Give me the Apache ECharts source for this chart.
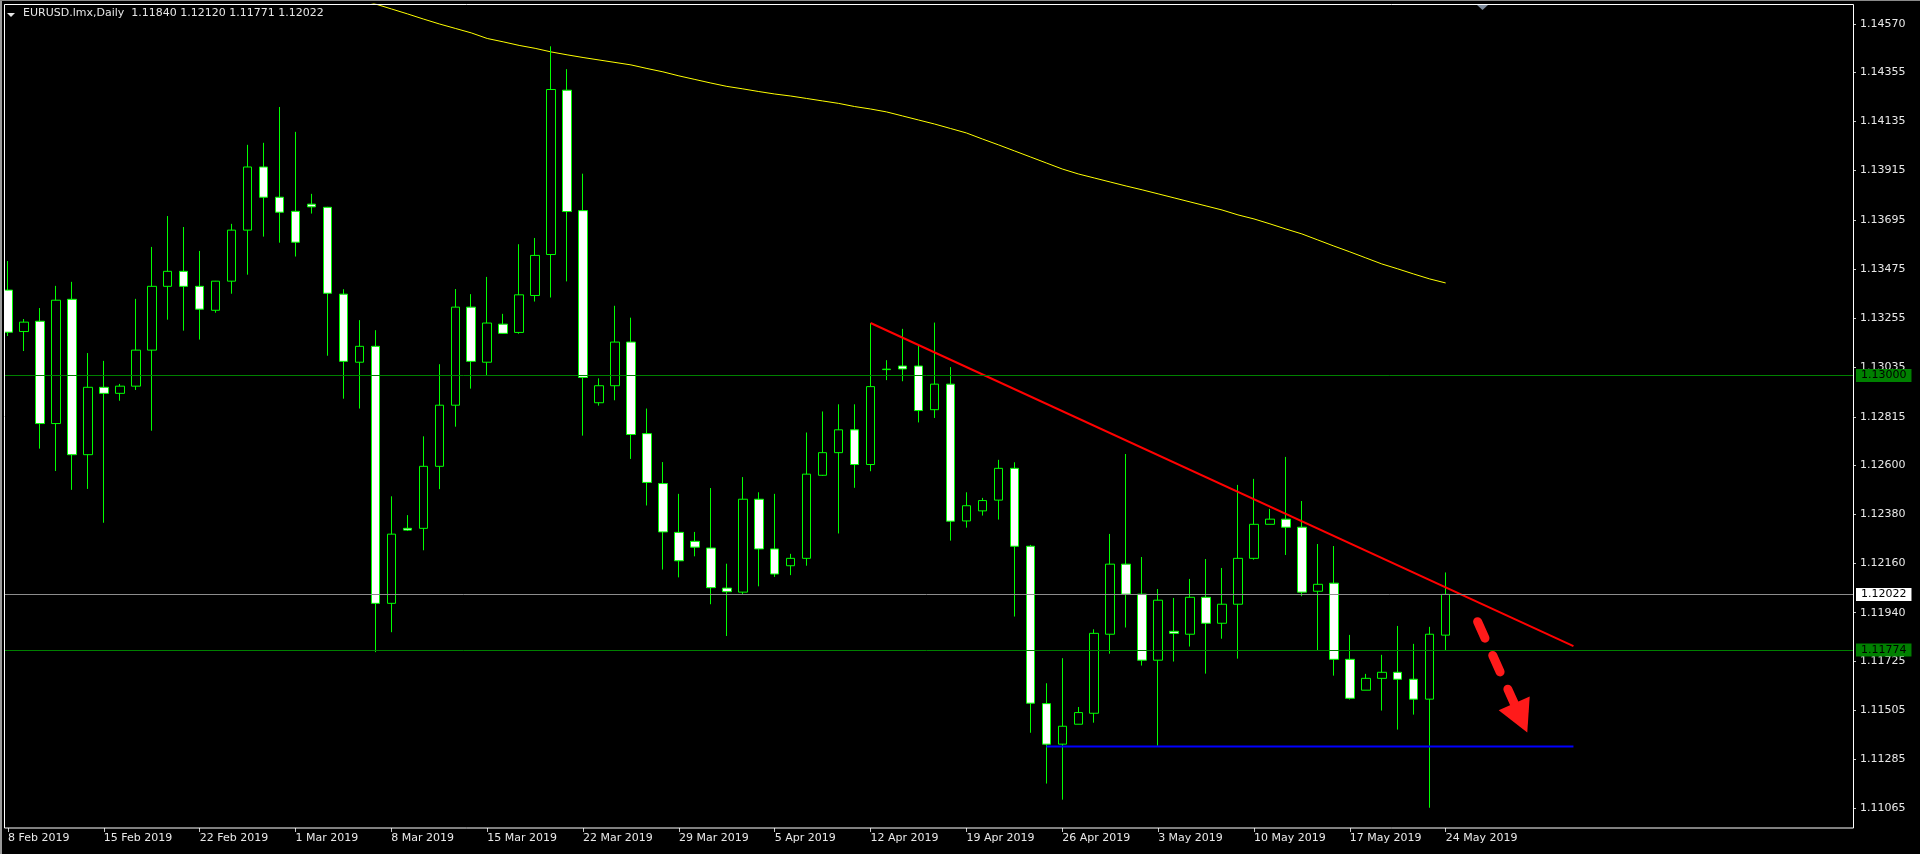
<!DOCTYPE html>
<html>
<head>
<meta charset="utf-8">
<script src="https://cdn.jsdelivr.net/npm/echarts@6/dist/echarts.min.js"></script>
<style>
html,body{margin:0;padding:0;background:#000;}
#c{width:1920px;height:854px;}
</style>
</head>
<body>
<div id="c"></div>
<script>
// ---------------- DATA ----------------
const symbolName = 'EURUSD.lmx';
const timeframe = 'Daily';

const categories = [
 '8 Feb 2019',
 '10 Feb 2019','11 Feb 2019','12 Feb 2019','13 Feb 2019','14 Feb 2019','15 Feb 2019',
 '17 Feb 2019','18 Feb 2019','19 Feb 2019','20 Feb 2019','21 Feb 2019','22 Feb 2019',
 '24 Feb 2019','25 Feb 2019','26 Feb 2019','27 Feb 2019','28 Feb 2019','1 Mar 2019',
 '3 Mar 2019','4 Mar 2019','5 Mar 2019','6 Mar 2019','7 Mar 2019','8 Mar 2019',
 '10 Mar 2019','11 Mar 2019','12 Mar 2019','13 Mar 2019','14 Mar 2019','15 Mar 2019',
 '17 Mar 2019','18 Mar 2019','19 Mar 2019','20 Mar 2019','21 Mar 2019','22 Mar 2019',
 '24 Mar 2019','25 Mar 2019','26 Mar 2019','27 Mar 2019','28 Mar 2019','29 Mar 2019',
 '31 Mar 2019','1 Apr 2019','2 Apr 2019','3 Apr 2019','4 Apr 2019','5 Apr 2019',
 '7 Apr 2019','8 Apr 2019','9 Apr 2019','10 Apr 2019','11 Apr 2019','12 Apr 2019',
 '14 Apr 2019','15 Apr 2019','16 Apr 2019','17 Apr 2019','18 Apr 2019','19 Apr 2019',
 '21 Apr 2019','22 Apr 2019','23 Apr 2019','24 Apr 2019','25 Apr 2019','26 Apr 2019',
 '28 Apr 2019','29 Apr 2019','30 Apr 2019','1 May 2019','2 May 2019','3 May 2019',
 '5 May 2019','6 May 2019','7 May 2019','8 May 2019','9 May 2019','10 May 2019',
 '12 May 2019','13 May 2019','14 May 2019','15 May 2019','16 May 2019','17 May 2019',
 '19 May 2019','20 May 2019','21 May 2019','22 May 2019','23 May 2019','24 May 2019'
];
const futureSlots = 25; // empty chart-shift area on the right

const openP = [
 1.13381,1.13196,1.13242,1.12785,1.13340,1.12646,1.12947,1.12920,1.12952,1.13113,
 1.13398,1.13465,1.13398,1.13291,1.13421,1.13649,1.13931,1.13796,1.13733,1.13765,
 1.13751,1.13363,1.13059,1.13130,1.11982,1.12317,1.12317,1.12594,1.12867,1.13305,
 1.13059,1.13229,1.13192,1.13357,1.13540,1.14274,1.13736,1.12878,1.12954,1.13149,
 1.12740,1.12517,1.12299,1.12259,1.12229,1.12050,1.12032,1.12447,1.12225,1.12150,
 1.12183,1.12554,1.12655,1.12757,1.12602,1.13026,1.13042,1.13042,1.12847,1.12961,
 1.12350,1.12395,1.12443,1.12585,1.12237,1.11534,1.11353,1.11442,1.11491,1.11844,
 1.12157,1.12023,1.11728,1.11857,1.11844,1.12009,1.11893,1.11978,1.12183,1.12335,
 1.12358,1.12322,1.12036,1.12072,1.11732,1.11594,1.11647,1.11674,1.11643,1.11554,
 1.11840
];
const highP = [
 1.13511,1.13252,1.13301,1.13400,1.13418,1.13100,1.13065,1.12962,1.13342,1.13574,
 1.13712,1.13663,1.13556,1.13422,1.13677,1.14030,1.14039,1.14199,1.14088,1.13811,
 1.13753,1.13385,1.13247,1.13202,1.12460,1.12376,1.12728,1.13050,1.13386,1.13363,
 1.13440,1.13275,1.13586,1.13614,1.14470,1.14368,1.13901,1.12987,1.13311,1.13258,
 1.12852,1.12613,1.12471,1.12301,1.12497,1.12159,1.12546,1.12478,1.12471,1.12203,
 1.12745,1.12839,1.12871,1.12871,1.13234,1.13068,1.13208,1.13133,1.13236,1.13037,
 1.12478,1.12453,1.12623,1.12612,1.12243,1.11625,1.11737,1.11519,1.11866,1.12292,
 1.12649,1.12189,1.12046,1.12006,1.12091,1.12180,1.12140,1.12511,1.12538,1.12404,
 1.12636,1.12439,1.12247,1.12238,1.11841,1.11667,1.11752,1.11881,1.11801,1.11877,
 1.12120
];
const lowP = [
 1.13176,1.13109,1.12673,1.12573,1.12489,1.12493,1.12342,1.12887,1.12935,1.12753,
 1.13249,1.13200,1.13160,1.13280,1.13365,1.13450,1.13620,1.13593,1.13531,1.13723,
 1.13088,1.12896,1.12852,1.11764,1.11853,1.12305,1.12219,1.12492,1.12771,1.12941,
 1.13000,1.13185,1.13186,1.13330,1.13348,1.13420,1.12731,1.12865,1.12889,1.12627,
 1.12419,1.12133,1.12098,1.12192,1.11978,1.11836,1.12023,1.12058,1.12100,1.12108,
 1.12150,1.12551,1.12294,1.12498,1.12572,1.12979,1.12974,1.12790,1.12810,1.12262,
 1.12320,1.12374,1.12356,1.11923,1.11404,1.11177,1.11105,1.11442,1.11449,1.11757,
 1.11874,1.11704,1.11346,1.11722,1.11789,1.11668,1.11824,1.11735,1.12177,1.12335,
 1.12198,1.12014,1.11773,1.11659,1.11552,1.11594,1.11503,1.11418,1.11485,1.11069,
 1.11771
];
const closeP = [
 1.13193,1.13238,1.12785,1.13336,1.12646,1.12947,1.12920,1.12952,1.13113,1.13398,
 1.13465,1.13398,1.13296,1.13421,1.13649,1.13931,1.13796,1.13729,1.13595,1.13753,
 1.13367,1.13063,1.13130,1.11982,1.12291,1.12309,1.12594,1.12867,1.13305,1.13063,
 1.13234,1.13188,1.13360,1.13536,1.14277,1.13732,1.12991,1.12954,1.13149,1.12736,
 1.12522,1.12301,1.12172,1.12233,1.12052,1.12034,1.12447,1.12225,1.12113,1.12183,
 1.12559,1.12655,1.12757,1.12602,1.12950,1.13028,1.13029,1.12843,1.12961,1.12349,
 1.12418,1.12441,1.12585,1.12237,1.11536,1.11353,1.11433,1.11494,1.11848,1.12157,
 1.12023,1.11728,1.11996,1.11848,1.12009,1.11893,1.11978,1.12183,1.12335,1.12358,
 1.12322,1.12032,1.12067,1.11732,1.11558,1.11647,1.11674,1.11643,1.11554,1.11844,
 1.12022
];
// moving average (yellow); earlier values lie above the visible range
const maValues = [
 null,null,null,null,null,null,null,null,null,null,
 null,null,null,null,null,null,null,null,null,null,
 null,null,1.14682,1.14659,1.14637,1.14615,1.14592,1.14570,1.14550,1.14530,
 1.14505,1.14490,1.14474,1.14461,1.14445,1.14432,1.14420,1.14409,1.14398,1.14387,
 1.14371,1.14356,1.14338,1.14322,1.14306,1.14291,1.14280,1.14268,1.14257,1.14248,
 1.14237,1.14226,1.14215,1.14201,1.14190,1.14177,1.14159,1.14141,1.14123,1.14103,
 1.14083,1.14056,1.14030,1.14003,1.13976,1.13949,1.13922,1.13900,1.13882,1.13864,
 1.13846,1.13829,1.13811,1.13793,1.13775,1.13757,1.13739,1.13717,1.13699,1.13677,
 1.13654,1.13632,1.13605,1.13578,1.13552,1.13525,1.13498,1.13476,1.13453,1.13431,
 1.13413
];
// price-axis tick labels, bottom to top
const yTickLabels = ['1.11065','1.11285','1.11505','1.11725','1.11940','1.12160','1.12380','1.12600',
 '1.12815','1.13035','1.13255','1.13475','1.13695','1.13915','1.14135','1.14355','1.14570'];
const levelLines = [1.13000, 1.11774];
const trendX = [54, 98];       const trendY = [1.13234, 1.11791];
const supportX = [65, 98];     const supportY = [1.11342, 1.11342];
const arrowX = [92.0, 94.70];  const arrowY = [1.11900, 1.11470];

// ---------------- CHART ----------------
const Y_MIN = 1.109785, Y_MAX = 1.146590;
const FONT = 'DejaVu Sans';
const last = closeP.length - 1;
const yTickValues = yTickLabels.map(Number);

const xCats = categories.concat(new Array(futureSlots).fill(''));
const candleData = openP.map((o, i) => [o, closeP[i], lowP[i], highP[i]]);
const titleText = symbolName + ',' + timeframe + '  ' +
  [openP[last], highP[last], lowP[last], closeP[last]].map(v => v.toFixed(5)).join(' ');

const chart = echarts.init(document.getElementById('c'), null, {renderer: 'canvas'});

const levelLabel = (bg) => ({
  show: true, position: 'end', distance: 3, color: '#000', backgroundColor: bg,
  fontSize: 11, fontFamily: FONT, padding: [1, 5, 0, 5], lineHeight: 12,
  formatter: p => Number(p.value).toFixed(5)
});

chart.setOption({
  backgroundColor: '#000000',
  animation: false,
  title: {
    text: titleText, left: 23, top: 8, padding: 0,
    textStyle: {color: '#e6e6e6', fontSize: 11, fontWeight: 'normal', fontFamily: FONT}
  },
  grid: {left: -3, top: 4, width: 1856, height: 824, containLabel: false},
  xAxis: [{
    type: 'category', data: xCats, boundaryGap: true,
    axisLine: {show: false, onZero: false},
    axisTick: {show: true, alignWithLabel: true, length: 4,
      interval: (i, v) => i % 6 === 0 && v !== '',
      lineStyle: {color: '#c8c8c8'}},
    axisLabel: {show: true, interval: (i, v) => i % 6 === 0 && v !== '',
      align: 'left', margin: 5, color: '#e8e8e8', fontSize: 11, fontFamily: FONT},
    splitLine: {show: false}
  }, {
    type: 'value', min: -0.5, max: xCats.length - 0.5, show: false,
    axisLine: {onZero: false}
  }],
  yAxis: [{
    type: 'value', position: 'right', min: Y_MIN, max: Y_MAX,
    axisLine: {show: false, onZero: false},
    axisTick: {show: true, length: 3, customValues: yTickValues, lineStyle: {color: '#c8c8c8'}},
    axisLabel: {
      show: true, margin: 7, color: '#e8e8e8', fontSize: 11, fontFamily: FONT,
      customValues: yTickValues,
      formatter: v => Number(v).toFixed(5)
    },
    splitLine: {show: false}
  }],
  series: [
    {
      name: 'MA', type: 'line', xAxisIndex: 0, yAxisIndex: 0, data: maValues,
      symbol: 'none', lineStyle: {color: '#ffff00', width: 1}, z: 1, silent: true
    },
    {
      name: symbolName, type: 'candlestick', xAxisIndex: 0, yAxisIndex: 0,
      data: candleData, barWidth: 9, z: 3,
      itemStyle: {color: '#000000', color0: '#ffffff', borderColor: '#00ff00',
        borderColor0: '#00ff00', borderWidth: 1},
      markLine: {
        silent: true, symbol: 'none', animation: false, precision: 5,
        data: [
          {yAxis: levelLines[0], lineStyle: {color: '#008000', width: 1, type: 'solid'}, label: levelLabel('#008000')},
          {yAxis: levelLines[1], lineStyle: {color: '#008000', width: 1, type: 'solid'}, label: levelLabel('#008000')},
          {yAxis: closeP[last], lineStyle: {color: '#8c8c8c', width: 1, type: 'solid'}, label: levelLabel('#ffffff')}
        ]
      }
    },
    {
      name: 'trend', type: 'line', xAxisIndex: 1, yAxisIndex: 0,
      data: trendX.map((x, i) => [x, trendY[i]]),
      symbol: 'none', lineStyle: {color: '#ff0000', width: 2}, z: 4, silent: true
    },
    {
      name: 'support', type: 'line', xAxisIndex: 1, yAxisIndex: 0,
      data: supportX.map((x, i) => [x, supportY[i]]),
      symbol: 'none', lineStyle: {color: '#0000ff', width: 2}, z: 4, silent: true,
      markLine: {
        silent: true, animation: false, precision: 5,
        symbol: ['none', 'triangle'], symbolSize: [34, 32],
        lineStyle: {color: '#ff1a1a', width: 9, type: [18, 19], cap: 'round'},
        itemStyle: {color: '#ff1a1a'},
        label: {show: false},
        data: [[{coord: [arrowX[0], arrowY[0]]}, {coord: [arrowX[1], arrowY[1]]}]]
      }
    }
  ],
  graphic: [
    {type: 'rect', z: 100, shape: {x: 0, y: 0, width: 4, height: 854}, style: {fill: '#000'}},
    {type: 'rect', z: 101, shape: {x: 0, y: 0, width: 2, height: 854}, style: {fill: '#9a9a9a'}},
    {type: 'rect', z: 101, shape: {x: 0, y: 0, width: 1920, height: 1}, style: {fill: '#8a8a8a'}},
    {type: 'rect', z: 102, shape: {x: 4.5, y: 4.5, width: 1849, height: 823.5},
      style: {fill: null, stroke: '#ffffff', lineWidth: 1}},
    {type: 'polygon', z: 102, shape: {points: [[1477, 5], [1488, 5], [1482.5, 10]]}, style: {fill: '#7f8c9d'}},
    {type: 'polygon', z: 102, shape: {points: [[7, 13], [15, 13], [11, 17]]}, style: {fill: '#e6e6e6'}}
  ]
});
</script>
</body>
</html>
